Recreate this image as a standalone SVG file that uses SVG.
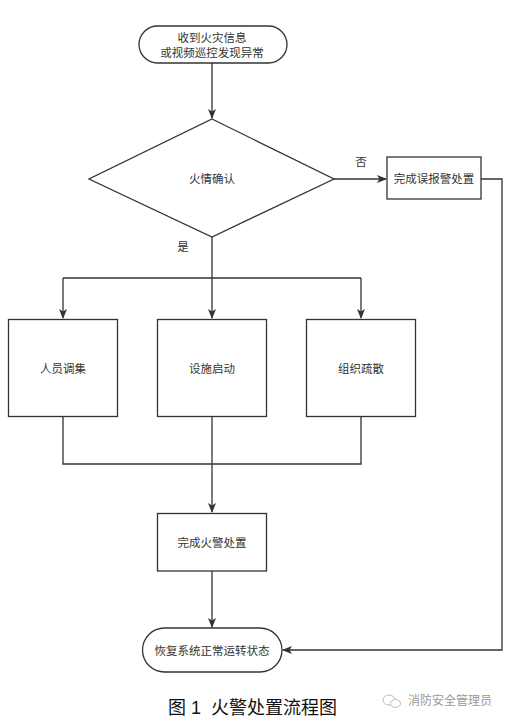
<svg xmlns="http://www.w3.org/2000/svg" width="510" height="724" viewBox="0 0 510 724">
<defs>
<marker id="arr" markerWidth="10" markerHeight="8" refX="9" refY="4" orient="auto" markerUnits="userSpaceOnUse">
<path d="M0,0 L10,4 L0,8 L2.5,4 Z" fill="#333"/>
</marker>
<style>
.shape{fill:#fff;stroke:#333;stroke-width:1.3}
.conn{fill:none;stroke:#333;stroke-width:1.3}
.lbl{font-family:"Liberation Sans","Noto Sans CJK SC",sans-serif;font-size:11.5px;fill:#333;text-anchor:middle;dominant-baseline:central}
</style>
</defs>
<rect width="510" height="724" fill="#fff"/>
<g id="connectors">
<path class="conn" d="M212,63 L212,118" marker-end="url(#arr)"/>
<path class="conn" d="M334,179 L386,179" marker-end="url(#arr)"/>
<path class="conn" d="M212,237 L212,278"/>
<path class="conn" d="M63,278 L361,278"/>
<path class="conn" d="M63,278 L63,318" marker-end="url(#arr)"/>
<path class="conn" d="M212,278 L212,318" marker-end="url(#arr)"/>
<path class="conn" d="M361,278 L361,318" marker-end="url(#arr)"/>
<path class="conn" d="M63,417 L63,464 L361,464 L361,417"/>
<path class="conn" d="M212,417 L212,512" marker-end="url(#arr)"/>
<path class="conn" d="M212,571 L212,627" marker-end="url(#arr)"/>
<path class="conn" d="M481,179 L502,179 L502,650 L283,650" marker-end="url(#arr)"/>
<text class="lbl" x="361" y="162">否</text>
<text class="lbl" x="183" y="247">是</text>
</g>
<g id="start">
<rect class="shape" x="139" y="26" width="148" height="37" rx="18.5" ry="18.5"/>
<text class="lbl" x="212" y="38">收到火灾信息</text>
<text class="lbl" x="212" y="53">或视频巡控发现异常</text>
</g>
<g id="decision">
<polygon class="shape" points="212,119 334,179 212,237 89,179"/>
<text class="lbl" x="212" y="179">火情确认</text>
</g>
<g id="false-alarm">
<rect class="shape" x="387" y="157" width="94" height="42"/>
<text class="lbl" x="434" y="179">完成误报警处置</text>
</g>
<g id="staff">
<rect class="shape" x="8.5" y="319.5" width="109" height="97"/>
<text class="lbl" x="63" y="369">人员调集</text>
</g>
<g id="facility">
<rect class="shape" x="157.5" y="319.5" width="109" height="97"/>
<text class="lbl" x="212" y="369">设施启动</text>
</g>
<g id="evacuate">
<rect class="shape" x="306.5" y="319.5" width="109" height="97"/>
<text class="lbl" x="361" y="369">组织疏散</text>
</g>
<g id="fire-done">
<rect class="shape" x="157.5" y="513.5" width="109" height="57.5"/>
<text class="lbl" x="212" y="543">完成火警处置</text>
</g>
<g id="end">
<rect class="shape" x="142.5" y="628" width="139.5" height="44" rx="22" ry="22"/>
<text class="lbl" x="212" y="651">恢复系统正常运转状态</text>
</g>
<text x="168" y="714" xml:space="preserve" style="font-family:'Liberation Sans','Noto Sans CJK SC',sans-serif;font-size:18px;fill:#111">图 1  火警处置流程图</text>
<g id="watermark">
<ellipse cx="389" cy="700" rx="6" ry="5" fill="none" stroke="#bbb" stroke-width="1"/>
<ellipse cx="395.5" cy="703.5" rx="5" ry="4" fill="#fff" stroke="#bbb" stroke-width="1"/>
<text x="408" y="701" style="font-family:'Liberation Sans','Noto Sans CJK SC',sans-serif;font-size:12px;fill:#999;dominant-baseline:central">消防安全管理员</text>
</g>
</svg>
